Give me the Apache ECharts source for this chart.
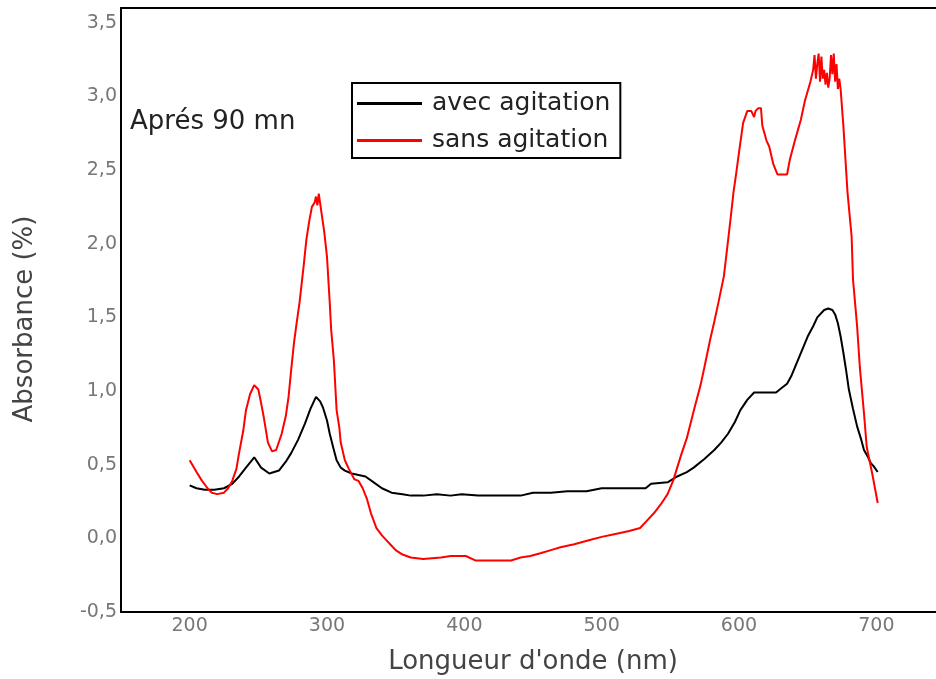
<!DOCTYPE html>
<html>
<head>
<meta charset="utf-8">
<script src="https://cdn.jsdelivr.net/npm/echarts@6/dist/echarts.min.js"></script>
<style>html,body{margin:0;padding:0;background:#fff}#c{width:936px;height:679px}</style>
</head>
<body>
<div id="c"></div>
<script>
const seriesNames = ['avec agitation', 'sans agitation'];
const xTicks = [200, 300, 400, 500, 600, 700];

const avecWl = [200,205,211,218,225,231,236,241,247,252,258,265,270,274,279,284,288,292,295,297,300,302,305,307,310,313,318,323,328,334,340,347,355,361,370,380,390,398,410,425,441,450,463,475,489,500,515,532,536,548,555,562,567,575,582,587,592,597,601,606,611,618,627,631,635,638,642,646,650,654,657,662,665,668,670,672,674,676,678,680,683,686,689,691,694,696,698,701];
const avecAbs = [0.36,0.34,0.33,0.33,0.34,0.37,0.42,0.48,0.55,0.48,0.44,0.46,0.52,0.58,0.67,0.78,0.88,0.96,0.93,0.89,0.80,0.71,0.60,0.53,0.48,0.46,0.44,0.43,0.42,0.38,0.34,0.31,0.30,0.29,0.29,0.30,0.29,0.30,0.29,0.29,0.29,0.31,0.31,0.32,0.32,0.34,0.34,0.34,0.37,0.38,0.42,0.45,0.48,0.54,0.60,0.65,0.71,0.79,0.87,0.94,0.99,0.99,0.99,1.02,1.05,1.10,1.19,1.28,1.37,1.44,1.50,1.55,1.56,1.55,1.52,1.46,1.37,1.26,1.14,1.01,0.88,0.76,0.67,0.60,0.55,0.51,0.49,0.45];

const sansWl = [200,205,209,213,216,220,225,228,231,234,236,239,241,244,247,250,252,254,257,260,263,267,270,272,274,276,278,280,283,285,287,289,291,292,293,294,296,298,300,302,303,305,307,309,310,313,316,320,323,326,329,332,336,340,343,347,350,355,361,370,383,390,401,408,420,434,441,448,456,463,470,480,492,500,510,520,528,534,538,543,548,552,555,558,562,565,568,572,575,579,582,585,589,592,594,596,598,600,603,606,609,611,612,614,616,617,620,622,625,628,632,635,637,641,645,648,652,654,655,656,657,658,659,660,661,662,663,664,665,666,667,668,669,670,671,672,673,674,676,679,682,683,686,688,691,693,697,701];
const sansAbs = [0.53,0.45,0.39,0.34,0.31,0.30,0.31,0.34,0.39,0.47,0.58,0.73,0.87,0.98,1.04,1.01,0.92,0.82,0.65,0.59,0.60,0.71,0.83,0.96,1.15,1.33,1.47,1.60,1.85,2.03,2.15,2.25,2.28,2.32,2.26,2.34,2.21,2.08,1.91,1.60,1.42,1.21,0.87,0.75,0.65,0.53,0.47,0.40,0.39,0.34,0.27,0.17,0.07,0.02,-0.01,-0.05,-0.08,-0.11,-0.13,-0.14,-0.13,-0.12,-0.12,-0.15,-0.15,-0.15,-0.13,-0.12,-0.10,-0.08,-0.06,-0.04,-0.01,0.01,0.03,0.05,0.07,0.13,0.17,0.23,0.30,0.39,0.48,0.57,0.68,0.79,0.90,1.04,1.17,1.35,1.47,1.60,1.78,2.02,2.18,2.35,2.48,2.62,2.82,2.90,2.90,2.86,2.90,2.92,2.92,2.80,2.70,2.66,2.54,2.47,2.47,2.47,2.57,2.71,2.84,2.97,3.10,3.18,3.28,3.12,3.22,3.29,3.10,3.27,3.12,3.18,3.08,3.16,3.06,3.12,3.28,3.15,3.29,3.10,3.22,3.05,3.12,3.05,2.80,2.35,2.05,1.76,1.44,1.16,0.85,0.62,0.44,0.24];

const pairs = (xs, ys) => xs.map((x, i) => [x, ys[i]]);
const chart = echarts.init(document.getElementById('c'), null, {renderer: 'canvas'});
const FONT = 'DejaVu Sans';
chart.setOption({
  animation: false,
  backgroundColor: '#fff',
  grid: {left: 121, top: 8, right: -9, bottom: 67, containLabel: false, outerBoundsMode: 'none'},
  legend: {
    orient: 'vertical', left: 352, top: 83,
    data: seriesNames,
    icon: 'rect', itemWidth: 65, itemHeight: 3, itemGap: 12,
    padding: [8, 10, 5, 5],
    borderColor: '#000', borderWidth: 2,
    textStyle: {fontFamily: FONT, fontSize: 25, color: '#222', padding: [0, 0, 0, 5]}
  },
  graphic: [{
    type: 'text', left: 130, top: 109,
    style: {text: 'Aprés 90 mn', font: '26px "DejaVu Sans"', fill: '#222'}
  }],
  xAxis: [{
    type: 'value', min: 150, max: 750, interval: 50,
    name: "Longueur d'onde (nm)", nameLocation: 'middle', nameGap: 37,
    nameTextStyle: {fontFamily: FONT, fontSize: 26, color: '#444'},
    axisLine: {show: true, onZero: false, lineStyle: {color: '#000', width: 2}},
    axisTick: {show: false},
    splitLine: {show: false},
    axisLabel: {
      fontFamily: FONT, fontSize: 19, color: '#777', margin: 5,
      formatter: v => xTicks.includes(v) ? String(v) : ''
    }
  }, {
    type: 'value', position: 'top', min: 150, max: 750,
    axisLine: {show: true, onZero: false, lineStyle: {color: '#000', width: 2}},
    axisTick: {show: false}, axisLabel: {show: false}, splitLine: {show: false}
  }],
  yAxis: {
    type: 'value', min: -0.5, max: 3.6, interval: 0.5,
    name: 'Absorbance (%)', nameLocation: 'middle', nameGap: 83,
    nameTextStyle: {fontFamily: FONT, fontSize: 26, color: '#444', padding: [0, 18, 0, 0]},
    axisLine: {show: true, onZero: false, lineStyle: {color: '#000', width: 2}},
    axisTick: {show: false},
    splitLine: {show: false},
    axisLabel: {
      fontFamily: FONT, fontSize: 19, color: '#777', margin: 4,
      formatter: v => (Math.abs(v * 2 - Math.round(v * 2)) < 1e-6 && v <= 3.5) ? v.toFixed(1).replace('.', ',') : ''
    }
  },
  series: [{
    name: seriesNames[0], type: 'line', xAxisIndex: 0,
    data: pairs(avecWl, avecAbs), showSymbol: false, symbol: 'none',
    lineStyle: {color: '#000', width: 2}, itemStyle: {color: '#000'}
  }, {
    name: seriesNames[1], type: 'line', xAxisIndex: 0,
    data: pairs(sansWl, sansAbs), showSymbol: false, symbol: 'none',
    lineStyle: {color: '#ff0000', width: 2}, itemStyle: {color: '#ff0000'}
  }]
});
</script>
</body>
</html>
